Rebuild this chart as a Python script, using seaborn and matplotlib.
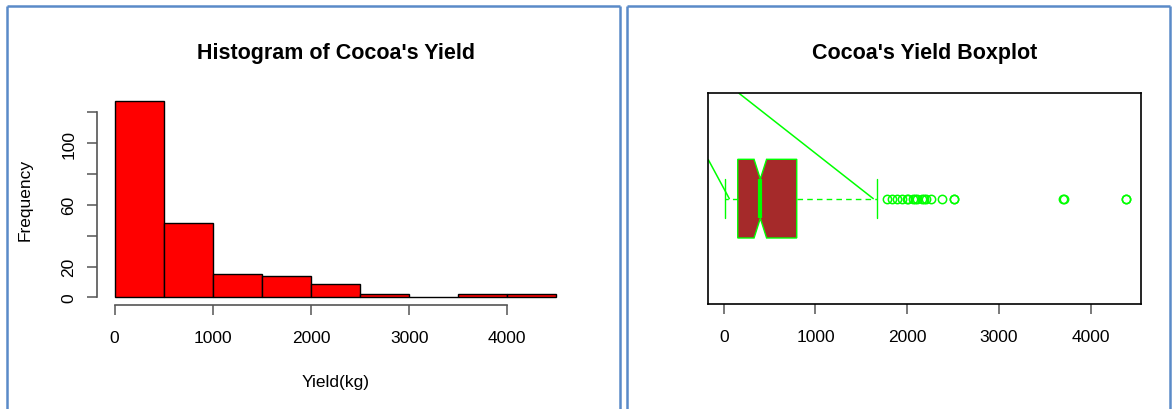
import matplotlib
matplotlib.use("Agg")
import matplotlib.pyplot as plt
from matplotlib.lines import Line2D
import seaborn as sns
import pandas as pd

# ----------------- DATA -----------------
# cocoa yield per farm (kg), read off histogram counts + boxplot stats
yield_kg = [
    12, 15, 18, 20, 22, 25, 28, 30, 32, 35, 38, 40, 42, 45, 48, 50, 52, 55, 58, 60,
    62, 65, 68, 70, 72, 75, 78, 80, 82, 85, 88, 90, 92, 95, 98, 100, 102, 105, 108, 110,
    112, 115, 118, 120, 122, 125, 128, 130, 132, 135, 138, 140, 144, 147, 150,
    156, 160, 163, 167, 170, 174, 178, 181, 185, 189, 192, 196, 200, 204, 208, 212, 215, 219,
    223, 227, 231, 235, 240, 244, 248, 252, 257, 261, 266, 270, 275, 280, 284, 289, 294, 298,
    303, 308, 312, 317, 322, 327, 332, 337, 342, 347, 352, 357, 362, 367, 373, 380, 387, 395,
    399,
    405, 411, 417, 423, 428, 434, 440, 446, 452, 457, 463, 469, 474, 480, 486, 491, 497,
    503, 510, 516, 522, 529, 535, 541, 548, 554, 560, 567, 573, 580, 586, 593, 600, 606, 613,
    620, 627, 634, 641, 648, 656, 663, 671, 679, 687, 695, 704, 713, 722, 732, 743, 755, 768,
    790, 802, 818, 835, 852, 868, 885, 903, 921, 940, 962, 985,
    1012, 1040, 1065, 1090, 1118, 1145, 1170, 1200, 1230, 1262, 1295, 1330, 1370, 1415, 1460,
    1510, 1530, 1552, 1575, 1598, 1620, 1645, 1660, 1674, 1776, 1831, 1886, 1940, 1995,
    2010, 2060, 2085, 2110, 2158, 2180, 2205, 2256, 2376,
    2510, 2515,
    3700, 3705,
    4380, 4383,
]
bin_edges = [0, 500, 1000, 1500, 2000, 2500, 3000, 3500, 4000, 4500]
hist_yticks = [0, 20, 40, 60, 80, 100, 120]
hist_ylabels = ["0", "20", "", "60", "", "100", ""]
x_ticks = [0, 1000, 2000, 3000, 4000]

# stray green segments drawn over the boxplot
seg_a_x = [167, 1630]
seg_a_y = [-0.5, 0.0]
seg_b_x = [-168, 61]
seg_b_y = [-0.185, 0.0]

df = pd.DataFrame({"Yield": yield_kg})

# ----------------- STYLE -----------------
sns.set_style("white")
plt.rcParams["font.family"] = ["Liberation Sans", "DejaVu Sans"]
plt.rcParams["text.color"] = "black"
plt.rcParams["xtick.color"] = "black"
plt.rcParams["ytick.color"] = "black"

W, H = 1176, 410
fig = plt.figure(figsize=(W / 100, H / 100), dpi=100)

def px_axes(left, top, right, bottom):
    return fig.add_axes([left / W, 1 - bottom / H, (right - left) / W, (bottom - top) / H])

axis_grey = "#555555"
tick_fs = 12.5

# ----------------- HISTOGRAM -----------------
ax1 = px_axes(97, 94.5, 574, 306.3)
sns.histplot(data=df, x="Yield", bins=bin_edges, color="#FF0000", edgecolor="black",
             alpha=1, linewidth=1, ax=ax1)
ax1.set_xlim(-180, 4680)
ax1.set_ylim(-5.08, 132.08)
for s in ["top", "right"]:
    ax1.spines[s].set_visible(False)
ax1.spines["left"].set_bounds(0, 120)
ax1.spines["bottom"].set_bounds(0, 4000)
for s in ["left", "bottom"]:
    ax1.spines[s].set_color(axis_grey)
    ax1.spines[s].set_linewidth(1.2)
ax1.set_yticks(hist_yticks)
ax1.set_yticklabels(hist_ylabels, rotation=90, va="center")
ax1.set_xticks(x_ticks)
ax1.set_xticklabels([str(t) for t in x_ticks])
ax1.tick_params(axis="both", direction="out", length=7, width=1.1, color=axis_grey,
                labelsize=tick_fs, labelcolor="black", bottom=True, left=True)
ax1.tick_params(axis="x", pad=11)
ax1.tick_params(axis="y", pad=8)
ax1.set_xlabel("")
ax1.set_ylabel("")

fig.text(335.5 / W, 1 - 53 / H, "Histogram of Cocoa's Yield", ha="center", va="center",
         fontsize=15.5, fontweight="bold")
fig.text(335.5 / W, 1 - 383 / H, "Yield(kg)", ha="center", va="center", fontsize=tick_fs)
fig.text(25 / W, 1 - 200 / H, "Frequency", ha="center", va="center", rotation=90,
         fontsize=tick_fs)

# ----------------- BOXPLOT -----------------
ax2 = px_axes(708.3, 94.3, 1141, 305)
green = "#00FF00"
sns.boxplot(data=df, x="Yield", orient="h", width=0.3735, color="#A52A2A",
            linecolor=green, linewidth=1, notch=True, saturation=1,
            whiskerprops={"linestyle": (0, (4, 3))},
            medianprops={"linewidth": 3, "color": green},
            flierprops={"marker": "o", "markerfacecolor": "none",
                        "markeredgecolor": green, "markersize": 6,
                        "markeredgewidth": 1.1},
            ax=ax2)
ax2.plot(seg_a_x, seg_a_y, color=green, lw=1.1)
ax2.plot(seg_b_x, seg_b_y, color=green, lw=1.1)
ax2.set_xlim(-168, 4548)
ax2.set_ylim(0.5, -0.5)
ax2.set_yticks([])
ax2.set_xticks(x_ticks)
ax2.set_xticklabels([str(t) for t in x_ticks])
for s in ax2.spines.values():
    s.set_visible(True)
    s.set_color("black")
    s.set_linewidth(1.2)
ax2.tick_params(axis="x", direction="out", length=7, width=1.1, color=axis_grey,
                labelsize=tick_fs, labelcolor="black", pad=11, bottom=True)
ax2.set_xlabel("")
ax2.set_ylabel("")

fig.text(924.7 / W, 1 - 53 / H, "Cocoa's Yield Boxplot", ha="center", va="center",
         fontsize=15.5, fontweight="bold")

# ----------------- PANEL BORDERS -----------------
border = "#5A8AC8"
def seg(x, y):
    fig.add_artist(Line2D([v / W for v in x], [1 - v / H for v in y],
                          color=border, lw=1.8, solid_capstyle="butt"))

seg([7, 7], [7, 412])
seg([7, 619.5], [7, 7])
seg([619.5, 619.5], [7, 412])
seg([627, 627], [7, 412])
seg([627, 1170], [7, 7])
seg([1170, 1170], [7, 412])

fig.savefig("out.png", dpi=100)
